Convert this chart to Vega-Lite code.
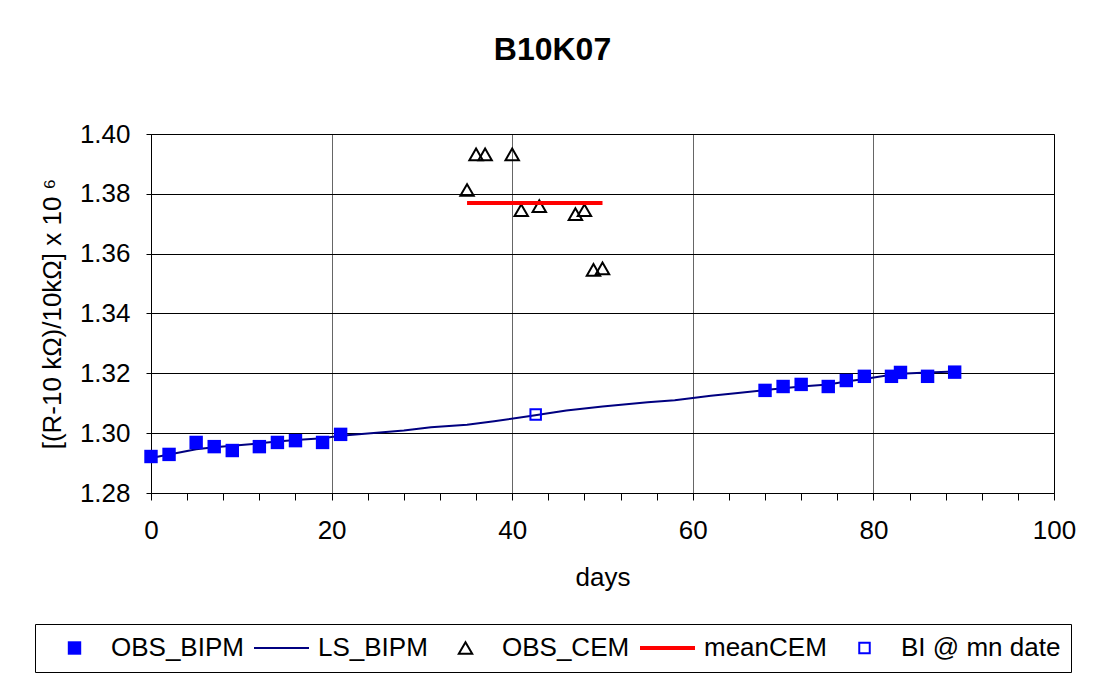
{
  "$schema": "https://vega.github.io/schema/vega-lite/v6.json",
  "width": 903,
  "height": 359,
  "autosize": {"type": "none"},
  "padding": {"left": 151, "top": 134, "right": 42, "bottom": 184},
  "background": "white",
  "config": {
    "font": "Liberation Sans",
    "view": {"stroke": "black", "strokeWidth": 1},
    "axis": {
      "labelFont": "Liberation Sans",
      "titleFont": "Liberation Sans",
      "labelColor": "black",
      "titleColor": "black",
      "domainColor": "black",
      "tickColor": "black",
      "labelFontSize": 26,
      "titleFontSize": 26,
      "titleFontWeight": "normal",
      "domainWidth": 1,
      "tickWidth": 1
    },
    "legend": {"symbolOpacity": 1}
  },
  "title": {
    "text": "B10K07",
    "fontSize": 32,
    "fontWeight": "bold",
    "font": "Liberation Sans",
    "color": "black",
    "frame": "group",
    "anchor": "middle",
    "dx": -50,
    "offset": 29,
    "baseline": "alphabetic"
  },
  "data": {
    "values": [
      {"series": "OBS_BIPM", "day": 0, "value": 1.2922},
      {"series": "OBS_BIPM", "day": 2, "value": 1.2929},
      {"series": "OBS_BIPM", "day": 5, "value": 1.2969},
      {"series": "OBS_BIPM", "day": 7, "value": 1.2955},
      {"series": "OBS_BIPM", "day": 9, "value": 1.2942},
      {"series": "OBS_BIPM", "day": 12, "value": 1.2955},
      {"series": "OBS_BIPM", "day": 14, "value": 1.2969},
      {"series": "OBS_BIPM", "day": 16, "value": 1.2975},
      {"series": "OBS_BIPM", "day": 19, "value": 1.2969},
      {"series": "OBS_BIPM", "day": 21, "value": 1.2996},
      {"series": "OBS_BIPM", "day": 68, "value": 1.3143},
      {"series": "OBS_BIPM", "day": 70, "value": 1.3156},
      {"series": "OBS_BIPM", "day": 72, "value": 1.3163},
      {"series": "OBS_BIPM", "day": 75, "value": 1.3156},
      {"series": "OBS_BIPM", "day": 77, "value": 1.3176},
      {"series": "OBS_BIPM", "day": 79, "value": 1.3190},
      {"series": "OBS_BIPM", "day": 82, "value": 1.3190},
      {"series": "OBS_BIPM", "day": 83, "value": 1.3203},
      {"series": "OBS_BIPM", "day": 86, "value": 1.3190},
      {"series": "OBS_BIPM", "day": 89, "value": 1.3204},
      {"series": "LS_BIPM", "day": 0, "value": 1.2917},
      {"series": "LS_BIPM", "day": 2, "value": 1.2929},
      {"series": "LS_BIPM", "day": 5, "value": 1.2946},
      {"series": "LS_BIPM", "day": 7, "value": 1.2953},
      {"series": "LS_BIPM", "day": 9, "value": 1.2958},
      {"series": "LS_BIPM", "day": 12, "value": 1.2966},
      {"series": "LS_BIPM", "day": 14, "value": 1.2972},
      {"series": "LS_BIPM", "day": 16, "value": 1.2977},
      {"series": "LS_BIPM", "day": 19, "value": 1.2983},
      {"series": "LS_BIPM", "day": 21, "value": 1.2991},
      {"series": "LS_BIPM", "day": 25, "value": 1.3001},
      {"series": "LS_BIPM", "day": 28, "value": 1.3009},
      {"series": "LS_BIPM", "day": 31, "value": 1.3020},
      {"series": "LS_BIPM", "day": 35, "value": 1.3028},
      {"series": "LS_BIPM", "day": 38, "value": 1.3040},
      {"series": "LS_BIPM", "day": 42, "value": 1.3057},
      {"series": "LS_BIPM", "day": 46, "value": 1.3076},
      {"series": "LS_BIPM", "day": 50, "value": 1.3089},
      {"series": "LS_BIPM", "day": 55, "value": 1.3103},
      {"series": "LS_BIPM", "day": 58, "value": 1.3110},
      {"series": "LS_BIPM", "day": 62, "value": 1.3125},
      {"series": "LS_BIPM", "day": 65, "value": 1.3134},
      {"series": "LS_BIPM", "day": 68, "value": 1.3144},
      {"series": "LS_BIPM", "day": 70, "value": 1.3150},
      {"series": "LS_BIPM", "day": 72, "value": 1.3156},
      {"series": "LS_BIPM", "day": 75, "value": 1.3163},
      {"series": "LS_BIPM", "day": 77, "value": 1.3173},
      {"series": "LS_BIPM", "day": 79, "value": 1.3181},
      {"series": "LS_BIPM", "day": 82, "value": 1.3195},
      {"series": "LS_BIPM", "day": 83, "value": 1.3199},
      {"series": "LS_BIPM", "day": 86, "value": 1.3203},
      {"series": "LS_BIPM", "day": 89, "value": 1.3206},
      {"series": "OBS_CEM", "day": 35, "value": 1.3813},
      {"series": "OBS_CEM", "day": 36, "value": 1.3932},
      {"series": "OBS_CEM", "day": 37, "value": 1.3932},
      {"series": "OBS_CEM", "day": 40, "value": 1.3932},
      {"series": "OBS_CEM", "day": 41, "value": 1.3745},
      {"series": "OBS_CEM", "day": 43, "value": 1.3759},
      {"series": "OBS_CEM", "day": 47, "value": 1.3732},
      {"series": "OBS_CEM", "day": 48, "value": 1.3745},
      {"series": "OBS_CEM", "day": 49, "value": 1.3546},
      {"series": "OBS_CEM", "day": 50, "value": 1.3551},
      {"series": "meanCEM", "day": 35, "value": 1.3769},
      {"series": "meanCEM", "day": 50, "value": 1.3769},
      {"series": "BI @ mn date", "day": 42.6, "value": 1.3062}
    ]
  },
  "encoding": {
    "x": {
      "field": "day",
      "type": "quantitative",
      "scale": {"domain": [0, 100], "nice": false},
      "axis": {
        "values": [0, 4, 8, 12, 16, 20, 24, 28, 32, 36, 40, 44, 48, 52, 56, 60, 64, 68, 72, 76, 80, 84, 88, 92, 96, 100],
        "labelExpr": "datum.value % 20 === 0 ? datum.label : ''",
        "format": "d",
        "grid": true,
        "gridColor": "#666666",
        "gridOpacity": {"condition": {"test": "datum.value % 20 === 0 && datum.value > 0 && datum.value < 100", "value": 1}, "value": 0},
        "tickSize": 7,
        "labelPadding": 17,
        "labelFlush": false,
        "labelOverlap": false,
        "title": "days",
        "titlePadding": 21
      }
    },
    "y": {
      "field": "value",
      "type": "quantitative",
      "scale": {"domain": [1.28, 1.40], "nice": false, "zero": false},
      "axis": {
        "values": [1.28, 1.30, 1.32, 1.34, 1.36, 1.38, 1.40],
        "format": ".2f",
        "grid": true,
        "gridColor": "black",
        "gridOpacity": 1,
        "tickSize": 5,
        "labelPadding": 16,
        "title": "[(R-10 kΩ)/10kΩ] x 10 ⁶",
        "titlePadding": 14
      }
    }
  },
  "layer": [
    {
      "transform": [{"filter": "datum.series === 'LS_BIPM'"}],
      "mark": {"type": "line"},
      "encoding": {
        "stroke": {"field": "series", "type": "nominal", "scale": {"domain": ["OBS_BIPM", "LS_BIPM", "OBS_CEM", "meanCEM", "BI @ mn date"], "range": ["transparent", "#000080", "#000000", "#ff0000", "#0000ff"]}, "legend": {"title": null, "orient": "none", "legendX": -116, "legendY": 490, "direction": "horizontal", "columns": 5, "padding": 10, "clipHeight": 28, "strokeColor": "black", "fillColor": "white", "labelFontSize": 26, "labelFont": "Liberation Sans", "labelColor": "black", "columnPadding": 8, "labelOffset": 7, "labelLimit": 400}},
        "strokeWidth": {"field": "series", "type": "nominal", "scale": {"type": "ordinal", "domain": ["OBS_BIPM", "LS_BIPM", "OBS_CEM", "meanCEM", "BI @ mn date"], "range": [0, 2, 2, 4, 2]}, "legend": {"title": null, "orient": "none", "legendX": -116, "legendY": 490, "direction": "horizontal", "columns": 5, "padding": 10, "clipHeight": 28, "strokeColor": "black", "fillColor": "white", "labelFontSize": 26, "labelFont": "Liberation Sans", "labelColor": "black", "columnPadding": 8, "labelOffset": 7, "labelLimit": 400}}
      }
    },
    {
      "transform": [{"filter": "datum.series === 'OBS_BIPM' || datum.series === 'OBS_CEM' || datum.series === 'BI @ mn date'"}],
      "mark": {"type": "point", "opacity": 1},
      "encoding": {
        "stroke": {"field": "series", "type": "nominal", "scale": {"domain": ["OBS_BIPM", "LS_BIPM", "OBS_CEM", "meanCEM", "BI @ mn date"], "range": ["transparent", "#000080", "#000000", "#ff0000", "#0000ff"]}, "legend": {"title": null, "orient": "none", "legendX": -116, "legendY": 490, "direction": "horizontal", "columns": 5, "padding": 10, "clipHeight": 28, "strokeColor": "black", "fillColor": "white", "labelFontSize": 26, "labelFont": "Liberation Sans", "labelColor": "black", "columnPadding": 8, "labelOffset": 7, "labelLimit": 400}},
        "strokeWidth": {"field": "series", "type": "nominal", "scale": {"type": "ordinal", "domain": ["OBS_BIPM", "LS_BIPM", "OBS_CEM", "meanCEM", "BI @ mn date"], "range": [0, 2, 2, 4, 2]}, "legend": {"title": null, "orient": "none", "legendX": -116, "legendY": 490, "direction": "horizontal", "columns": 5, "padding": 10, "clipHeight": 28, "strokeColor": "black", "fillColor": "white", "labelFontSize": 26, "labelFont": "Liberation Sans", "labelColor": "black", "columnPadding": 8, "labelOffset": 7, "labelLimit": 400}},
        "fill": {"field": "series", "type": "nominal", "scale": {"domain": ["OBS_BIPM", "LS_BIPM", "OBS_CEM", "meanCEM", "BI @ mn date"], "range": ["#0000ff", "transparent", "transparent", "transparent", "transparent"]}, "legend": {"title": null, "orient": "none", "legendX": -116, "legendY": 490, "direction": "horizontal", "columns": 5, "padding": 10, "clipHeight": 28, "strokeColor": "black", "fillColor": "white", "labelFontSize": 26, "labelFont": "Liberation Sans", "labelColor": "black", "columnPadding": 8, "labelOffset": 7, "labelLimit": 400}},
        "shape": {"field": "series", "type": "nominal", "scale": {"domain": ["OBS_BIPM", "LS_BIPM", "OBS_CEM", "meanCEM", "BI @ mn date"], "range": ["square", "stroke", "triangle-up", "stroke", "square"]}, "legend": {"title": null, "orient": "none", "legendX": -116, "legendY": 490, "direction": "horizontal", "columns": 5, "padding": 10, "clipHeight": 28, "strokeColor": "black", "fillColor": "white", "labelFontSize": 26, "labelFont": "Liberation Sans", "labelColor": "black", "columnPadding": 8, "labelOffset": 7, "labelLimit": 400}},
        "size": {"field": "series", "type": "nominal", "scale": {"type": "ordinal", "domain": ["OBS_BIPM", "LS_BIPM", "OBS_CEM", "meanCEM", "BI @ mn date"], "range": [180, 3025, 180, 3025, 110]}, "legend": {"title": null, "orient": "none", "legendX": -116, "legendY": 490, "direction": "horizontal", "columns": 5, "padding": 10, "clipHeight": 28, "strokeColor": "black", "fillColor": "white", "labelFontSize": 26, "labelFont": "Liberation Sans", "labelColor": "black", "columnPadding": 8, "labelOffset": 7, "labelLimit": 400}}
      }
    },
    {
      "transform": [{"filter": "datum.series === 'meanCEM'"}],
      "mark": {"type": "line"},
      "encoding": {
        "stroke": {"field": "series", "type": "nominal", "scale": {"domain": ["OBS_BIPM", "LS_BIPM", "OBS_CEM", "meanCEM", "BI @ mn date"], "range": ["transparent", "#000080", "#000000", "#ff0000", "#0000ff"]}, "legend": {"title": null, "orient": "none", "legendX": -116, "legendY": 490, "direction": "horizontal", "columns": 5, "padding": 10, "clipHeight": 28, "strokeColor": "black", "fillColor": "white", "labelFontSize": 26, "labelFont": "Liberation Sans", "labelColor": "black", "columnPadding": 8, "labelOffset": 7, "labelLimit": 400}},
        "strokeWidth": {"field": "series", "type": "nominal", "scale": {"type": "ordinal", "domain": ["OBS_BIPM", "LS_BIPM", "OBS_CEM", "meanCEM", "BI @ mn date"], "range": [0, 2, 2, 4, 2]}, "legend": {"title": null, "orient": "none", "legendX": -116, "legendY": 490, "direction": "horizontal", "columns": 5, "padding": 10, "clipHeight": 28, "strokeColor": "black", "fillColor": "white", "labelFontSize": 26, "labelFont": "Liberation Sans", "labelColor": "black", "columnPadding": 8, "labelOffset": 7, "labelLimit": 400}}
      }
    }
  ]
}
